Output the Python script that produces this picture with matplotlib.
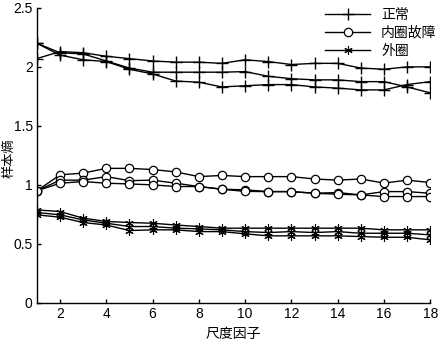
import matplotlib
matplotlib.use("Agg")
import matplotlib.pyplot as plt
import numpy as np

plt.rcParams['font.family'] = ['Liberation Sans', 'Noto Sans CJK SC', 'DejaVu Sans']

# scale factors
scales = np.arange(1, 19)

# 正常 (normal)
normal_1 = [2.07, 2.13, 2.12, 2.09, 2.07, 2.05, 2.04, 2.04, 2.03, 2.06, 2.045, 2.02, 2.03, 2.03, 1.99, 1.98, 2.0, 2.0]
normal_2 = [2.2, 2.12, 2.11, 2.05, 1.99, 1.955, 1.955, 1.955, 1.955, 1.96, 1.92, 1.90, 1.89, 1.89, 1.875, 1.875, 1.83, 1.78]
normal_3 = [2.2, 2.10, 2.06, 2.045, 1.98, 1.94, 1.88, 1.87, 1.83, 1.84, 1.85, 1.85, 1.83, 1.82, 1.805, 1.805, 1.85, 1.875]

# 内圈故障 (inner race fault)
inner_1 = [0.95, 1.085, 1.10, 1.14, 1.14, 1.13, 1.11, 1.07, 1.08, 1.07, 1.07, 1.07, 1.05, 1.04, 1.05, 1.015, 1.04, 1.02]
inner_2 = [0.95, 1.04, 1.04, 1.07, 1.036, 1.04, 1.014, 0.986, 0.963, 0.958, 0.943, 0.943, 0.929, 0.935, 0.915, 0.943, 0.943, 0.929]
inner_3 = [0.95, 1.014, 1.028, 1.014, 1.008, 1.0, 0.986, 0.986, 0.963, 0.945, 0.943, 0.943, 0.929, 0.921, 0.915, 0.901, 0.901, 0.901]

# 外圈 (outer race fault)
outer_1 = [0.788, 0.774, 0.718, 0.69, 0.681, 0.675, 0.66, 0.647, 0.633, 0.633, 0.633, 0.633, 0.633, 0.633, 0.633, 0.619, 0.619, 0.619]
outer_2 = [0.766, 0.746, 0.703, 0.675, 0.647, 0.647, 0.633, 0.627, 0.619, 0.604, 0.596, 0.604, 0.596, 0.604, 0.59, 0.59, 0.59, 0.576]
outer_3 = [0.746, 0.726, 0.681, 0.66, 0.613, 0.619, 0.619, 0.604, 0.604, 0.585, 0.568, 0.568, 0.568, 0.568, 0.562, 0.556, 0.556, 0.534]

labels = ['正常', '内圈故障', '外圈']

fig = plt.figure(figsize=(4.39, 3.43), dpi=100)
ax = fig.add_axes([0.084, 0.117, 0.896, 0.86])

lw = 1.0
for i, s in enumerate([normal_1, normal_2, normal_3]):
    ax.plot(scales, s, color='black', lw=lw, marker='+', ms=9, mew=1.0,
            label=labels[0] if i == 0 else None)
for i, s in enumerate([inner_1, inner_2, inner_3]):
    ax.plot(scales, s, color='black', lw=lw, marker='o', ms=6, mfc='white', mew=0.9,
            label=labels[1] if i == 0 else None)
for i, s in enumerate([outer_1, outer_2, outer_3]):
    ax.plot(scales, s, color='black', lw=lw, marker=(6, 2, 0), ms=6, mew=0.8,
            label=labels[2] if i == 0 else None)

ax.set_xlim(1, 18)
ax.set_ylim(0, 2.5)
ax.set_xticks(np.arange(2, 19, 2))
ax.set_yticks([0, 0.5, 1, 1.5, 2, 2.5])
ax.set_yticklabels(['0', '0.5', '1', '1.5', '2', '2.5'])
ax.tick_params(direction='in', length=3, labelsize=10, width=1, pad=3)
for side in ['top', 'right']:
    ax.spines[side].set_visible(False)
for side in ['left', 'bottom']:
    ax.spines[side].set_linewidth(1.0)

ax.set_xlabel('尺度因子', fontsize=10, family=['Noto Sans CJK SC'], labelpad=4)
ax.set_ylabel('样本熵', fontsize=9.5, family=['Noto Sans CJK SC'])
ax.yaxis.set_label_coords(-0.055, 0.49)

leg = ax.legend(loc='upper right', frameon=False, prop={'family': 'Noto Sans CJK SC', 'size': 10},
                handlelength=3.2, borderaxespad=0.0, labelspacing=0.3, bbox_to_anchor=(1.03, 1.02))

fig.savefig('out.png', dpi=100)
